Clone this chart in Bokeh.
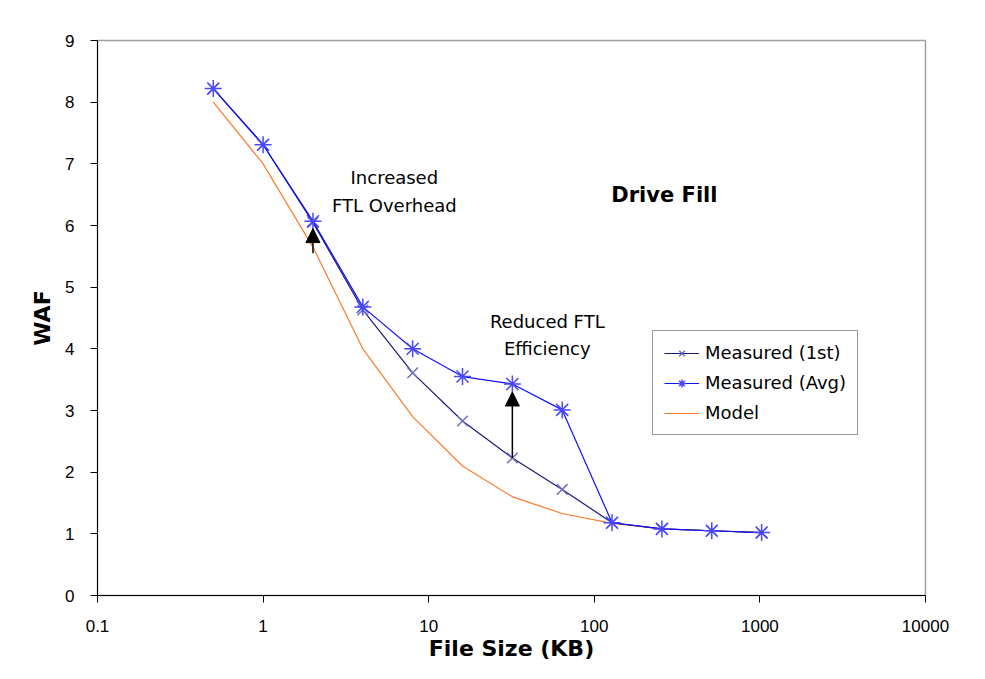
from bokeh.plotting import figure
from bokeh.models import FixedTicker, Arrow, NormalHead, Legend, LegendItem, ColumnDataSource
from bokeh.core.properties import value
from bokeh.embed import file_html
from bokeh.resources import INLINE

# ---- data ----
file_size = [0.5, 1, 2, 4, 8, 16, 32, 64, 128, 256, 512, 1024]
meas_1st = [8.22, 7.31, 6.05, 4.63, 3.61, 2.83, 2.23, 1.72, 1.18, 1.08, 1.05, 1.02]
meas_avg = [8.22, 7.31, 6.07, 4.68, 4.00, 3.55, 3.43, 3.01, 1.18, 1.08, 1.05, 1.02]
model = [8.0, 7.0, 5.65, 4.0, 2.9, 2.1, 1.6, 1.33, 1.17, 1.08, 1.05, 1.02]

x_ticks = [0.1, 1, 10, 100, 1000, 10000]
x_tick_labels = ["0.1", "1", "10", "100", "1000", "10000"]
y_ticks = [0, 1, 2, 3, 4, 5, 6, 7, 8, 9]

arrow_x = [2, 32]
arrow_start = [5.55, 2.23]
arrow_end = [5.95, 3.30]

note_x = [6.2, 52, 265]
note_y = [6.55, 4.22, 6.5]
note_text = ["Increased\nFTL Overhead", "Reduced FTL\nEfficiency", "Drive Fill"]

TICK_FONT = "Liberation Sans"
FONT = "DejaVu Sans"

p = figure(width=969, height=663, x_axis_type="log",
           x_range=(0.1, 10000), y_range=(0, 9),
           output_backend="svg", toolbar_location=None,
           min_border_left=97, min_border_right=44,
           min_border_top=40, min_border_bottom=67)

p.background_fill_color = "white"
p.border_fill_color = "white"
p.outline_line_color = "#a0a0a0"
p.outline_line_width = 1.5
p.xgrid.visible = False
p.ygrid.visible = False

# axes
p.xaxis.ticker = FixedTicker(ticks=x_ticks, minor_ticks=[])
p.xaxis.major_label_overrides = {t: l for t, l in zip(x_ticks, x_tick_labels)}
p.yaxis.ticker = FixedTicker(ticks=y_ticks, minor_ticks=[])
for ax in (p.xaxis, p.yaxis):
    ax.axis_line_color = "black"
    ax.axis_line_width = 1
    ax.major_tick_line_color = "black"
    ax.major_tick_out = 7
    ax.major_tick_in = 0
    ax.minor_tick_out = 0
    ax.minor_tick_in = 0
    ax.major_label_text_font = TICK_FONT
    ax.major_label_text_font_size = "17px"
    ax.major_label_text_color = "black"
    ax.axis_label_text_font = FONT
    ax.axis_label_text_font_size = "22px"
    ax.axis_label_text_font_style = "bold"
    ax.axis_label_text_color = "black"
p.xaxis.axis_label = "File Size (KB)"
p.yaxis.axis_label = "WAF"
p.xaxis.major_label_standoff = 17
p.yaxis.major_label_standoff = 16
p.xaxis.axis_label_standoff = 1
p.yaxis.axis_label_standoff = 7

# series
src = ColumnDataSource(dict(x=file_size, m1=meas_1st, ma=meas_avg, mo=model))

r_model = p.line("x", "mo", source=src, line_color="#ff7a2a", line_width=1.2)

l1 = p.line("x", "m1", source=src, line_color="#1a1a7a", line_width=1.2)
s1 = p.scatter("x", "m1", source=src, marker="x", size=15,
               line_color="#7070c0", line_width=1.5)

l2 = p.line("x", "ma", source=src, line_color="#1010ff", line_width=1.2)
s2 = p.scatter("x", "ma", source=src, marker="asterisk", size=17,
               line_color="#4848ff", line_width=1.5)

# arrows
for ax_, a0, a1 in zip(arrow_x, arrow_start, arrow_end):
    p.add_layout(Arrow(end=NormalHead(size=14, fill_color="black", line_color="black"),
                       x_start=ax_, y_start=a0, x_end=ax_, y_end=a1,
                       line_color="black", line_width=1.5))

# notes
p.text(x=note_x[:2], y=note_y[:2], text=note_text[:2],
       text_font=value(FONT), text_font_size="18px", text_color="black",
       text_align="center", text_baseline="middle", text_line_height=1.3)
p.text(x=note_x[2:], y=note_y[2:], text=note_text[2:],
       text_font=value(FONT), text_font_size="21px", text_font_style="bold",
       text_color="black", text_align="center", text_baseline="middle")

legend = Legend(items=[
    LegendItem(label="Measured (1st)", renderers=[l1, s1]),
    LegendItem(label="Measured (Avg)", renderers=[l2, s2]),
    LegendItem(label="Model", renderers=[r_model]),
], location=(555, 160))
legend.label_text_font = FONT
legend.label_text_font_size = "18px"
legend.label_text_color = "black"
legend.border_line_color = "#333333"
legend.border_line_width = 1.5
legend.background_fill_alpha = 1
legend.padding = 11
legend.spacing = 9
legend.glyph_width = 35
legend.glyph_height = 20
legend.label_height = 20
legend.label_standoff = 6
legend.margin = 0
p.add_layout(legend, "center")

open("out.html", "w").write(file_html(p, INLINE))
